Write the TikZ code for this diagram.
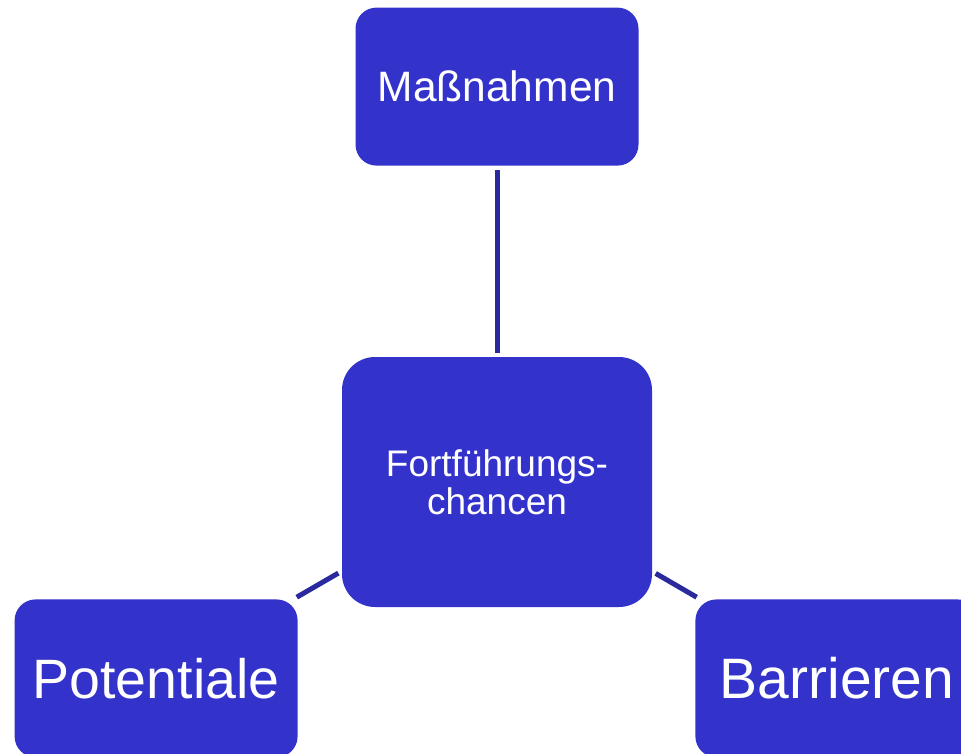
\documentclass[tikz,border=0pt]{standalone}
\usepackage{fontspec}
\setmainfont{Liberation Sans}
\usetikzlibrary{positioning}
\definecolor{boxblue}{RGB}{51,51,204}
\definecolor{lineblue}{RGB}{42,42,158}
\tikzset{
  box/.style={fill=boxblue, text=white, inner sep=0pt, align=center},
  smallbox/.style={box, minimum width=283pt, minimum height=158pt, rounded corners=21pt},
  link/.style={draw=lineblue, line width=5pt, shorten >=4pt, shorten <=4pt}
}

\begin{document}
\begin{tikzpicture}
  \useasboundingbox (0pt,0pt) rectangle (961pt,-753pt);
  % centre
  \node [box, minimum width=310pt, minimum height=250pt, rounded corners=33pt,
         font=\fontsize{37}{38}\selectfont] (fc) at (497pt,-482pt) {Fortführungs-\\chancen};
  % outer boxes
  \node [smallbox, above=191pt of fc, font=\fontsize{42.5}{46}\selectfont] (mass) {Maßnahmen};
  \node [smallbox, below left=-8pt and 44pt of fc, font=\fontsize{55.5}{60}\selectfont] (pot) {Potentiale};
  \node [smallbox, below right=-8pt and 43pt of fc, font=\fontsize{57}{60}\selectfont] (bar) {Barrieren};
  % links
  \draw [link] (fc) -- (mass);
  \draw [link] (fc) -- (pot);
  \draw [link] (fc) -- (bar);
\end{tikzpicture}
\end{document}
